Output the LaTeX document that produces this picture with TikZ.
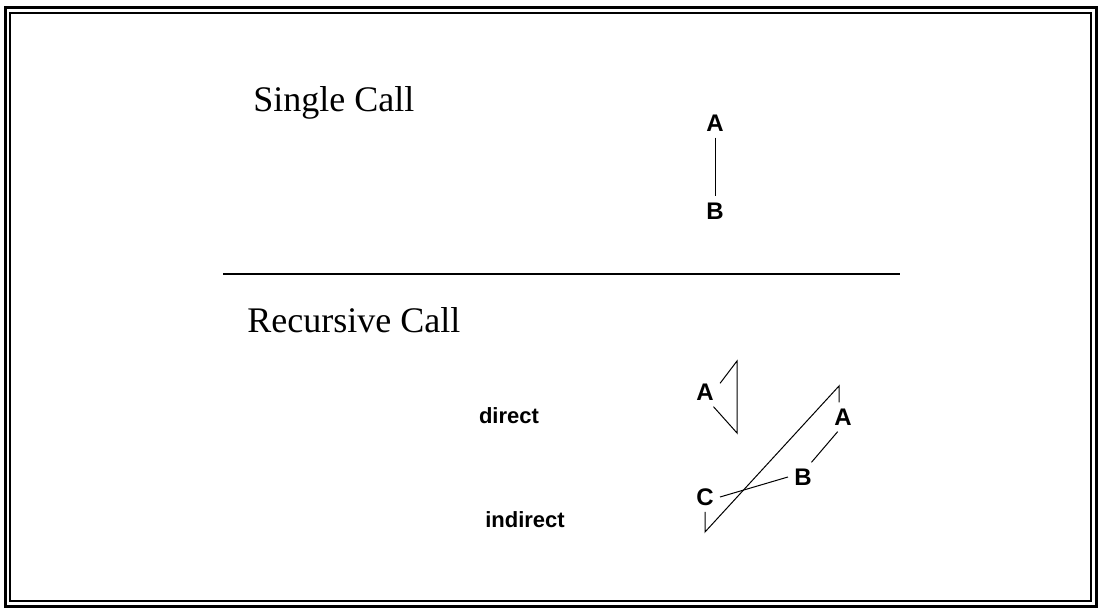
\documentclass[tikz,border=0pt]{standalone}
\usepackage{fontspec}
\setmainfont{Liberation Serif}
\newfontfamily\labelfont{Liberation Sans}

\tikzset{
  title/.style={font=\fontsize{18}{22}\selectfont, anchor=base west, inner sep=0pt},
  call/.style={font=\labelfont\bfseries\fontsize{12}{14}\selectfont, inner sep=3pt},
  kind/.style={font=\labelfont\bfseries\fontsize{11}{13}\selectfont, inner sep=0pt},
  link/.style={line width=0.5pt},
}

\begin{document}
\begin{tikzpicture}[x=0.5pt,y=-0.5pt]
  \useasboundingbox (0,0) rectangle (1099,609);
  % frame
  \draw[line width=1.5pt] (5,8) rectangle (1096,606);
  \draw[line width=1pt] (10,13) rectangle (1091,601);

  % single call
  \node[title] (single) at (253,112) {Single Call};
  \node[call] (sA) at (715,123) {A};
  \node[call] (sB) at (715,211) {B};
  \draw[link] (sA.south) -- (sB.north);

  \draw[line width=1pt] (223,274) -- (900,274);

  % recursive call
  \node[title] (recursive) at (247,333) {Recursive Call};
  \node[kind] (direct) at (509,416) {direct};
  \node[kind] (indirect) at (525,520) {indirect};

  % direct
  \node[call] (dA) at (705,392) {A};
  \coordinate (d1) at (737,361);
  \coordinate (d2) at (737,433);
  \draw[link] (dA.30) -- (d1) -- (d2) -- (dA.-60);

  % indirect
  \node[call] (iA) at (843,417) {A};
  \node[call] (iB) at (803,477) {B};
  \node[call] (iC) at (705,497) {C};
  \coordinate (i1) at (701,532);
  \coordinate (i2) at (839,386);
  \draw[link] (iA.250) -- (iB.60);
  \draw[link] (iB.west) -- (iC.east);
  \draw[link] (iC.south) -- (iC.south |- i1) -- (i2) -- (iA.north -| i2);
\end{tikzpicture}
\end{document}
